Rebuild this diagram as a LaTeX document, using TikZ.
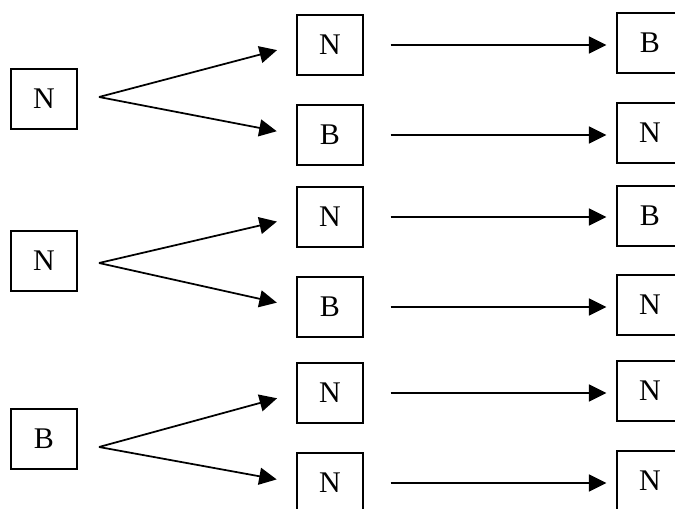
\documentclass[tikz,border=0pt]{standalone}
\usepackage{fontspec}
\setmainfont{Liberation Serif}
\usetikzlibrary{arrows.meta,positioning}

\begin{document}
\begin{tikzpicture}[x=0.4pt,y=-0.4pt,>={Triangle[length=7pt,width=6.8pt]},cell/.style={draw,line width=0.5pt,minimum width=26.4pt,minimum height=24pt,inner sep=0pt,font=\fontsize{12}{14}\selectfont},fork/.style={->,line width=0.7pt,shorten >=8pt},pass/.style={->,line width=0.7pt,shorten <=10.8pt,shorten >=4pt}]
\useasboundingbox (0,0) rectangle (675,508);
\clip (0,0) rectangle (675,508);
% parents
\node[cell] (l1) at (44,99) {N};
\node[cell] (l2) at (44,261) {N};
\node[cell] (l3) at (44,439) {B};
\coordinate (f1) at (99,97);
\coordinate (f2) at (99,263);
\coordinate (f3) at (99,447);
% children
\node[cell] (m1) at (330,45) {N};
\node[cell] (m2) at (330,135) {B};
\node[cell] (m3) at (330,217) {N};
\node[cell] (m4) at (330,307) {B};
\node[cell] (m5) at (330,393) {N};
\node[cell] (m6) at (330,483) {N};
% results
\node[cell] (r1) at (650,43) {B};
\node[cell] (r2) at (650,133) {N};
\node[cell] (r3) at (650,216) {B};
\node[cell] (r4) at (650,305) {N};
\node[cell] (r5) at (650,391) {N};
\node[cell] (r6) at (650,481) {N};
\draw[fork] (f1)--(m1.west);
\draw[fork] (f1)--(m2.west);
\draw[fork] (f2)--(m3.west);
\draw[fork] (f2)--(m4.west);
\draw[fork] (f3)--(m5.west);
\draw[fork] (f3)--(m6.west);
\draw[pass] (m1.east)--(m1.east-|r1.west);
\draw[pass] (m2.east)--(m2.east-|r2.west);
\draw[pass] (m3.east)--(m3.east-|r3.west);
\draw[pass] (m4.east)--(m4.east-|r4.west);
\draw[pass] (m5.east)--(m5.east-|r5.west);
\draw[pass] (m6.east)--(m6.east-|r6.west);
\end{tikzpicture}
\end{document}
